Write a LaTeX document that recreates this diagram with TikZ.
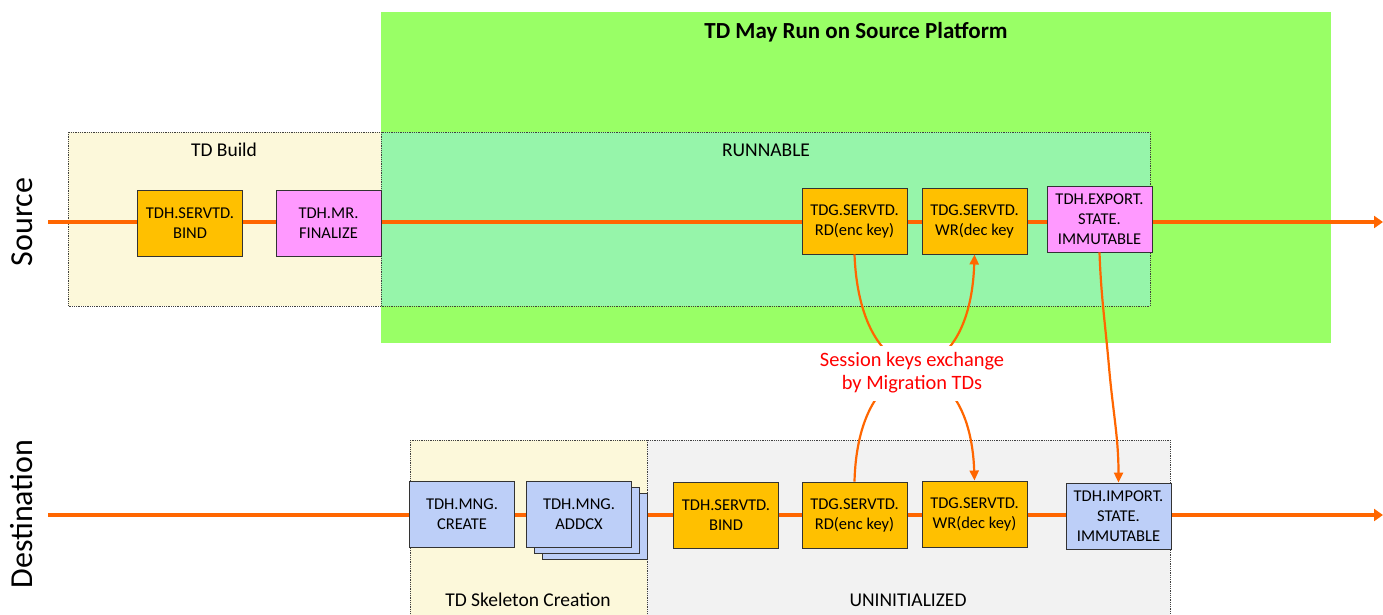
\documentclass[tikz,border=0pt]{standalone}
\usepackage{fontspec}
\setmainfont{Carlito}
\usetikzlibrary{arrows.meta}

\definecolor{runbg}{RGB}{153,255,102}
\definecolor{mintbg}{RGB}{150,245,170}
\definecolor{buildbg}{RGB}{252,248,218}
\definecolor{uninitbg}{RGB}{242,242,242}
\definecolor{tdhgold}{RGB}{255,192,0}
\definecolor{tdhpink}{RGB}{255,153,255}
\definecolor{tdhblue}{RGB}{189,207,248}
\definecolor{flow}{RGB}{255,102,0}

\tikzset{
  call/.style={draw=black!80,line width=0.9pt,minimum width=105pt,minimum height=66pt,
    inner sep=0pt,align=center,font=\fontsize{16.5}{20}\selectfont},
  phase/.style={draw=black!75,densely dotted,line width=0.8pt},
  timeline/.style={flow,line width=4pt,-{Triangle[length=9pt,width=12pt]}},
  keylink/.style={flow,line width=2.2pt},
  keytip/.style={keylink,-{Triangle[length=10pt,width=9pt]}},
  lbl/.style={font=\fontsize{19.5}{23}\selectfont},
  side/.style={font=\fontsize{32}{36}\selectfont,rotate=90},
}

\begin{document}
\begin{tikzpicture}[x=1pt,y=-1pt]
         \useasboundingbox (0,0) rectangle (1383,614) ;
         % phases
         \fill[runbg] (381,12) rectangle (1331,343) ;
         \node[font=\bfseries\fontsize{23}{26}\selectfont] (mayrun) at (856,32) {TD May Run on Source Platform} ;
         \draw[phase,fill=buildbg] (68,132) rectangle (381,306) ;
         \draw[phase,fill=mintbg] (381,132) rectangle (1150,306) ;
         \draw[phase,fill=buildbg] (410,440) rectangle (647,620) ;
         \draw[phase,fill=uninitbg] (647,440) rectangle (1170,620) ;
         \node[lbl] (build) at (224,150) {TD Build} ;
         \node[lbl] (runnable) at (766,150) {RUNNABLE} ;
         \node[lbl] (skeleton) at (528,600) {TD Skeleton Creation} ;
         \node[lbl] (uninit) at (908,600) {UNINITIALIZED} ;
         % timelines
         \node[side] (source) at (22,222) {Source} ;
         \node[side] (dest) at (22,514) {Destination} ;
         \coordinate (srcstart) at (48,222) ;
         \coordinate (srcend) at (1383,222) ;
         \coordinate (dststart) at (48,515) ;
         \coordinate (dstend) at (1383,515) ;
         \draw[timeline] (srcstart) -- (srcend) ;
         \draw[timeline] (dststart) -- (dstend) ;
         % source platform
         \node[call,fill=tdhgold] (sbind) at (190,223) {TDH.SERVTD.\\BIND} ;
         \node[call,fill=tdhpink] (sfinal) at (328.5,223) {TDH.MR.\\FINALIZE} ;
         \node[call,fill=tdhgold] (srd) at (854.5,221) {TDG.SERVTD.\\RD(enc key)} ;
         \node[call,fill=tdhgold] (swr) at (974.5,221) {TDG.SERVTD.\\WR(dec key} ;
         \node[call,fill=tdhpink] (export) at (1099.5,219) {TDH.EXPORT.\\STATE.\\IMMUTABLE} ;
         % destination platform
         \node[call,fill=tdhblue] (create) at (462,514) {TDH.MNG.\\CREATE} ;
         \foreach \k in {2,1} {
           \node[call,fill=tdhblue] (addcx\k) at (579+8*\k,514+6*\k) {} ;
         }
         \node[call,fill=tdhblue] (addcx) at (579,514) {TDH.MNG.\\ADDCX} ;
         \node[call,fill=tdhgold] (dbind) at (726,515) {TDH.SERVTD.\\BIND} ;
         \node[call,fill=tdhgold] (drd) at (854.5,515) {TDG.SERVTD.\\RD(enc key)} ;
         \node[call,fill=tdhgold] (dwr) at (974.5,514) {TDG.SERVTD.\\WR(dec key)} ;
         \node[call,fill=tdhblue] (import) at (1118.5,516) {TDH.IMPORT.\\STATE.\\IMMUTABLE} ;
         % key exchange and state transfer
         \draw[keytip] (srd.south) .. controls (860,400) and (970,400) .. (swr.south) ;
         \draw[keytip] (drd.north) .. controls (858,340) and (970,340) .. (dwr.north) ;
         \node[font=\fontsize{20.4}{23}\selectfont,fill=white,text=red,align=center,inner sep=3pt,
           minimum height=55pt] (keyx) at (912,373) {Session keys exchange\\by Migration TDs} ;
         \coordinate (kink) at (1109,367) ;
         \draw[keylink] (export.south) to[out=-88,in=95] (kink) ;
         \draw[keytip] (kink) to[out=-85,in=90] (import.north) ;
       \end{tikzpicture}
\end{document}
